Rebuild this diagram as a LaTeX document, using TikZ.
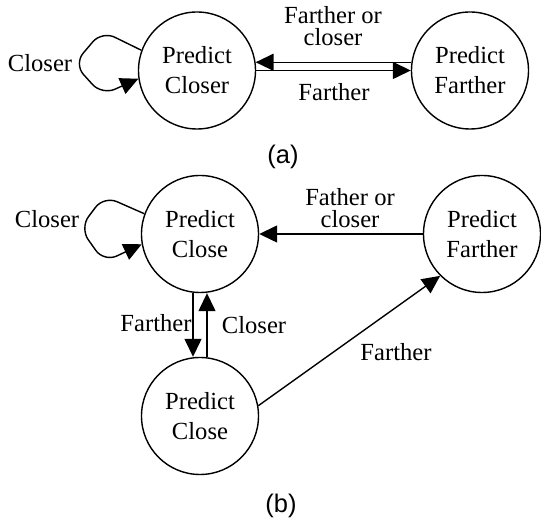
\documentclass[tikz,border=0pt]{standalone}
\usepackage{fontspec}
\setmainfont{Liberation Serif}
\newfontfamily\capfont{Liberation Sans}
\usetikzlibrary{arrows.meta}

\begin{document}
\begin{tikzpicture}[
  x=1cm,y=1cm,
  font=\fontsize{14}{17}\selectfont,
  st/.style={circle,draw,line width=0.8pt,minimum size=2.34cm,inner sep=0pt,align=center},
  tr/.style={line width=0.8pt,-{Triangle[length=3.6mm,width=3.4mm]}},
  lbl/.style={align=center,inner sep=1pt,font=\fontsize{14}{12.5}\selectfont},
  sublabel/.style={font=\capfont\fontsize{14.5}{17}\selectfont}
]
\useasboundingbox (0,0) rectangle (10.82,-10.46);

%%%%%%%%%%%%%%%%%%%%%%%%%%%%%%%%%%%%%%%%%%%%%%%%%%%%
% (a) two states
%%%%%%%%%%%%%%%%%%%%%%%%%%%%%%%%%%%%%%%%%%%%%%%%%%%%
\node[st] (PCa) at (3.94,-1.41) {Predict\\Closer};
\node[st] (PFa) at (9.40,-1.41) {Predict\\Farther};

\draw[tr] (PFa.172) -- (PCa.8);
\draw[tr] (PCa.0) -- (PFa.180);
\draw[tr,rounded corners=8pt] (PCa.160) -- (2.04,-0.62) -- (1.48,-1.28) -- (2.04,-1.90) -- (PCa.188);

\node[lbl] (LaBack) at (6.66,-0.52) {Farther or\\closer};
\node[lbl] (LaFwd) at (6.68,-1.84) {Farther};
\node[lbl] (LaLoop) at (0.80,-1.26) {Closer};
\node[sublabel] (capA) at (5.66,-3.14) {(a)};

%%%%%%%%%%%%%%%%%%%%%%%%%%%%%%%%%%%%%%%%%%%%%%%%%%%%
% (b) three states
%%%%%%%%%%%%%%%%%%%%%%%%%%%%%%%%%%%%%%%%%%%%%%%%%%%%
\node[st] (PCb1) at (4.00,-4.68) {Predict\\Close};
\node[st] (PFb) at (9.64,-4.68) {Predict\\Farther};
\node[st] (PCb2) at (4.00,-8.32) {Predict\\Close};

\draw[tr] (PFb.west) -- (PCb1.east);
\draw[tr] ([xshift=-0.14cm]PCb1.south) -- ([xshift=-0.14cm]PCb2.north);
\draw[tr] ([xshift=0.14cm]PCb2.north) -- ([xshift=0.14cm]PCb1.south);
\draw[tr] (PCb2.10) -- (PFb.225);
\draw[tr,rounded corners=8pt] (PCb1.160) -- (2.08,-3.92) -- (1.60,-4.56) -- (2.08,-5.24) -- (PCb1.190);

\node[lbl] (LbBack) at (7.0,-4.16) {Father or\\closer};
\node[lbl] (LbDown) at (3.12,-6.46) {Farther};
\node[lbl] (LbUp) at (5.08,-6.5) {Closer};
\node[lbl] (LbDiag) at (7.92,-7.04) {Farther};
\node[lbl] (LbLoop) at (0.94,-4.38) {Closer};
\node[sublabel] (capB) at (5.62,-10.12) {(b)};

\end{tikzpicture}
\end{document}
